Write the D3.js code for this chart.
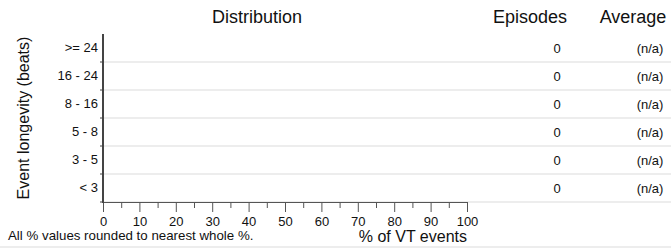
<!DOCTYPE html>
<html>
<head>
<meta charset="utf-8">
<script src="https://cdn.jsdelivr.net/npm/d3@7"></script>
<style>
  html, body { margin: 0; padding: 0; background: #fff; }
  svg { display: block; font-family: Arial, "Liberation Sans", sans-serif; }
</style>
</head>
<body>
<svg id="chart" width="671" height="251"></svg>
<script>
const categories = [">= 24", "16 - 24", "8 - 16", "5 - 8", "3 - 5", "< 3"];
const distribution = [0, 0, 0, 0, 0, 0];
const episodes = [0, 0, 0, 0, 0, 0];
const averages = ["(n/a)", "(n/a)", "(n/a)", "(n/a)", "(n/a)", "(n/a)"];
const xTicksMajor = [0, 10, 20, 30, 40, 50, 60, 70, 80, 90, 100];
const xTicksMinor = [5, 15, 25, 35, 45, 55, 65, 75, 85, 95];

const W = 671, H = 251;
const FONT = "Arial, 'Liberation Sans', sans-serif";
const svg = d3.select("#chart");

const x = d3.scaleLinear().domain([0, 100]).range([103, 467]);
const y = d3.scaleBand().domain(categories).range([34, 202]).padding(0);

// row grid lines (boundaries)
const boundaries = categories.map(c => y(c) + y.bandwidth());
svg.append("g").selectAll("line").data(boundaries).join("line")
  .attr("x1", 103).attr("x2", W)
  .attr("y1", d => d).attr("y2", d => d)
  .attr("stroke", "#dcdcdc").attr("stroke-width", 1.2);

// bars (all zero)
svg.append("g").selectAll("rect").data(categories).join("rect")
  .attr("x", x(0)).attr("y", (c) => y(c) + 6)
  .attr("width", (c, i) => x(distribution[i]) - x(0))
  .attr("height", y.bandwidth() - 12)
  .attr("fill", "#4a7ebb");

// x axis
const xAxisG = svg.append("g").attr("transform", "translate(0,202)");
xAxisG.call(d3.axisBottom(x).tickValues(xTicksMajor).tickSize(10).tickPadding(5).tickFormat(d3.format("d")));
xAxisG.select(".domain").attr("stroke", "#555").attr("d", `M${x(0)},0.5H${x(100)}`);
xAxisG.selectAll(".tick line").attr("stroke", "#555");
xAxisG.selectAll(".tick text").attr("font-size", 13).attr("fill", "#111").attr("font-family", FONT);
const xMinorG = svg.append("g").attr("transform", "translate(0,202)");
xMinorG.call(d3.axisBottom(x).tickValues(xTicksMinor).tickSize(6).tickFormat(""));
xMinorG.select(".domain").remove();
xMinorG.selectAll(".tick line").attr("stroke", "#555");

// y axis
const yAxisG = svg.append("g").attr("transform", "translate(103,0)");
yAxisG.call(d3.axisLeft(y).tickSize(0).tickPadding(5));
yAxisG.select(".domain").attr("stroke", "#444").attr("stroke-width", 2).attr("d", `M0,34V203`);
yAxisG.selectAll(".tick text").attr("font-size", 13).attr("fill", "#111").attr("font-family", FONT);
// small boundary ticks to the left
svg.append("g").selectAll("line").data(boundaries).join("line")
  .attr("x1", 100).attr("x2", 103)
  .attr("y1", d => d).attr("y2", d => d)
  .attr("stroke", "#444").attr("stroke-width", 1);

// headers
svg.append("text").attr("x", 257).attr("y", 23).attr("text-anchor", "middle")
  .attr("font-size", 18).attr("fill", "#111").text("Distribution");
svg.append("text").attr("x", 530).attr("y", 23).attr("text-anchor", "middle")
  .attr("font-size", 18).attr("fill", "#111").text("Episodes");
svg.append("text").attr("x", 633).attr("y", 23).attr("text-anchor", "middle")
  .attr("font-size", 18).attr("fill", "#111").text("Average");

// episodes and averages columns
svg.append("g").selectAll("text").data(categories).join("text")
  .attr("x", 557).attr("y", c => y(c) + y.bandwidth() / 2)
  .attr("dy", "0.35em").attr("text-anchor", "middle")
  .attr("font-size", 13).attr("fill", "#111")
  .text((c, i) => episodes[i]);
svg.append("g").selectAll("text").data(categories).join("text")
  .attr("x", 650).attr("y", c => y(c) + y.bandwidth() / 2)
  .attr("dy", "0.35em").attr("text-anchor", "middle")
  .attr("font-size", 13).attr("fill", "#111")
  .text((c, i) => averages[i]);

// y axis title
svg.append("text")
  .attr("transform", `translate(29,${(34 + 202) / 2}) rotate(-90)`)
  .attr("text-anchor", "middle").attr("font-size", 16).attr("fill", "#111")
  .text("Event longevity (beats)");

// x axis title
svg.append("text").attr("x", 467).attr("y", 242).attr("text-anchor", "end")
  .attr("font-size", 16).attr("fill", "#111").text("% of VT events");

// footnote
svg.append("text").attr("x", 8).attr("y", 240).attr("text-anchor", "start")
  .attr("font-size", 13.3).attr("fill", "#111").text("All % values rounded to nearest whole %.");

// bottom separator
svg.append("line").attr("x1", 0).attr("x2", W).attr("y1", 247).attr("y2", 247)
  .attr("stroke", "#dcdcdc").attr("stroke-width", 1.2);
</script>
</body>
</html>
